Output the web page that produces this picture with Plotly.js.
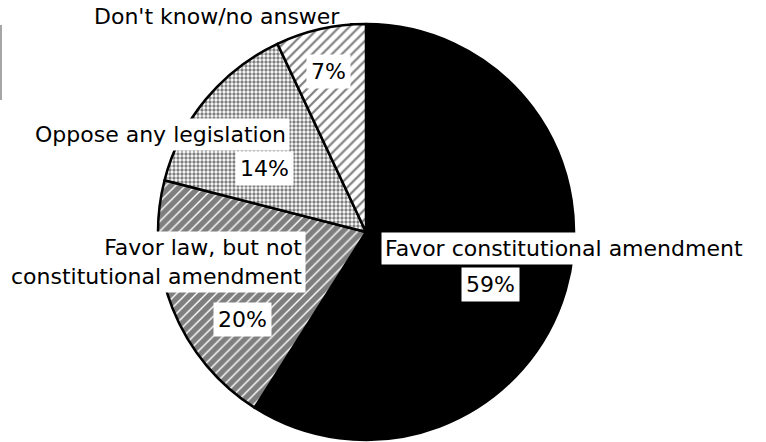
<!DOCTYPE html>
<html>
<head>
<meta charset="utf-8">
<script src="https://cdn.plot.ly/plotly-3.0.1.min.js"></script>
<style>
  html, body { margin: 0; padding: 0; background: #fff; }
  #chart { width: 766px; height: 442px; }
</style>
</head>
<body>
<div id="chart"></div>
<script>
// ---- data ----
const categories = [
  "Favor constitutional amendment",
  "Favor law, but not<br>constitutional amendment",
  "Oppose any legislation",
  "Don't know/no answer"
];
const values = [59, 20, 14, 7];
const percentLabels = ["59%", "20%", "14%", "7%"];

// ---- styles ----
const sliceColors = ["#000000", "#ffffff", "#ffffff", "#ffffff"];
const patternShapes = ["", "/", ".", "/"];
const patternSolidity = [0, 0.8, 0.55, 0.32];
const patternSizes = [7, 7, 4, 7];

// label placement (pixel positions in the 766x442 frame)
const W = 766, H = 442;
const namePos = [
  {x: 381, y: 248, xa: "left"},
  {x: 306, y: 262, xa: "right"},
  {x: 290, y: 134, xa: "right"},
  {x: 344, y: 17, xa: "right"}
];
const pctPos = [
  {x: 490, y: 284},
  {x: 243, y: 319},
  {x: 264, y: 168},
  {x: 328, y: 71}
];

const font = {family: "DejaVu Sans", size: 22, color: "#000"};
const annotations = [];
categories.forEach((c, i) => {
  annotations.push({
    xref: "paper", yref: "paper",
    x: namePos[i].x / W, y: 1 - namePos[i].y / H,
    xanchor: namePos[i].xa, yanchor: "middle",
    text: c, showarrow: false, align: "right",
    font: font,
    bgcolor: i === 3 ? "rgba(0,0,0,0)" : "#ffffff",
    borderpad: 3
  });
  annotations.push({
    xref: "paper", yref: "paper",
    x: pctPos[i].x / W, y: 1 - pctPos[i].y / H,
    xanchor: "center", yanchor: "middle",
    text: percentLabels[i], showarrow: false,
    font: font, bgcolor: "#ffffff", borderpad: 4
  });
});

const trace = {
  type: "pie",
  labels: categories,
  values: values,
  sort: false,
  direction: "clockwise",
  rotation: 0,
  textinfo: "none",
  hoverinfo: "label+percent",
  domain: {x: [158 / W, 574 / W], y: [2 / H, 418 / H]},
  marker: {
    colors: sliceColors,
    line: {color: "#000000", width: 2.5},
    pattern: {
      shape: patternShapes,
      fillmode: "overlay",
      fgcolor: "#000000",
      solidity: patternSolidity,
      size: patternSizes
    }
  }
};

const layout = {
  width: W, height: H,
  margin: {l: 0, r: 0, t: 0, b: 0},
  paper_bgcolor: "#ffffff",
  showlegend: false,
  annotations: annotations,
  shapes: [
    {type: "line", xref: "paper", yref: "paper",
     x0: 350 / W, x1: 366 / W, y0: 1 - 24 / H, y1: 1 - 24 / H,
     line: {color: "#000", width: 2}},
    {type: "line", xref: "paper", yref: "paper",
     x0: 1 / W, x1: 1 / W, y0: 1 - 25 / H, y1: 1 - 100 / H,
     line: {color: "#888", width: 1.5}}
  ]
};

Plotly.newPlot("chart", [trace], layout, {staticPlot: true, displayModeBar: false});
</script>
</body>
</html>
